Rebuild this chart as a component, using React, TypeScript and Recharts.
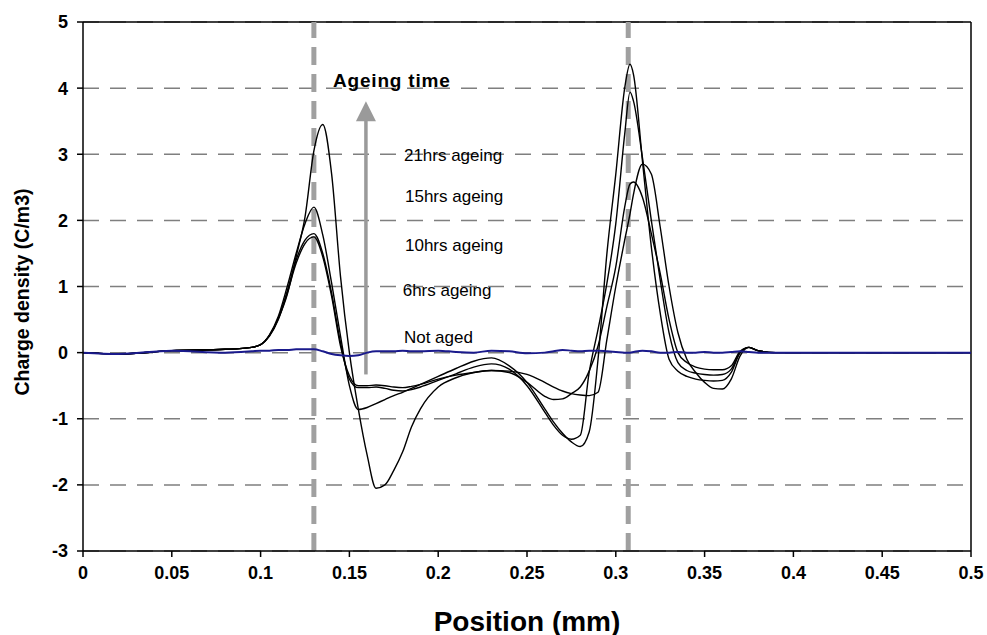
import React from "react";
import { LineChart, Line, XAxis, YAxis, CartesianGrid, ReferenceLine, ReferenceDot } from "recharts";

const positions = [
  0, 0.02, 0.05, 0.08, 0.095, 0.1, 0.105, 0.11, 0.115, 0.12,
  0.125, 0.13, 0.135, 0.14, 0.145, 0.15, 0.155, 0.16, 0.165, 0.17,
  0.175, 0.18, 0.185, 0.19, 0.2, 0.21, 0.22, 0.23, 0.24, 0.25,
  0.26, 0.265, 0.27, 0.275, 0.28, 0.285, 0.29, 0.295, 0.3, 0.305,
  0.308, 0.31, 0.315, 0.32, 0.325, 0.33, 0.335, 0.34, 0.345, 0.35,
  0.355, 0.36, 0.365, 0.37, 0.375, 0.38, 0.39, 0.4, 0.45, 0.5,
];

const hrs21 = [
  0, -0.02, 0.03, 0.05, 0.08, 0.12, 0.26, 0.52, 0.88, 1.45,
  2.05, 3.05, 3.45, 2.7, 1.15, 0.0, -0.85, -1.55, -2.05, -2.0,
  -1.78, -1.5, -1.12, -0.85, -0.52, -0.38, -0.3, -0.27, -0.28, -0.33,
  -0.45, -0.52, -0.58, -0.62, -0.64, -0.65, -0.6, 0.2, 1.0, 1.7,
  2.1, 2.4, 2.85, 2.7, 1.9, 1.0, 0.3, -0.1, -0.3, -0.45,
  -0.54, -0.55, -0.4, -0.05, 0.08, 0.03, 0, 0, 0, 0,
];

const hrs15 = [
  0, -0.02, 0.03, 0.05, 0.08, 0.12, 0.27, 0.55, 1.0, 1.5,
  1.95, 2.2, 1.78, 1.05, 0.25, -0.5, -0.86, -0.83, -0.77, -0.71,
  -0.65, -0.6, -0.54, -0.48, -0.36, -0.24, -0.13, -0.08, -0.2, -0.45,
  -0.85, -1.05, -1.22, -1.35, -1.42, -1.2, -0.1, 1.5, 2.7, 4.0,
  4.36, 4.2, 2.9, 1.6, 0.6, -0.1, -0.28, -0.36, -0.4, -0.42,
  -0.43, -0.42, -0.3, 0.0, 0.08, 0.03, 0, 0, 0, 0,
];

const hrs10 = [
  0, -0.02, 0.03, 0.05, 0.08, 0.12, 0.26, 0.52, 0.93, 1.4,
  1.7, 1.8, 1.5, 0.9, 0.15, -0.4, -0.53, -0.53, -0.52, -0.54,
  -0.57, -0.58, -0.56, -0.52, -0.42, -0.32, -0.22, -0.17, -0.25, -0.5,
  -0.9, -1.1, -1.25, -1.31, -1.25, -0.3, 0.35, 1.05, 1.95, 3.3,
  3.94, 3.8, 2.95, 2.0, 1.1, 0.3, -0.15, -0.27, -0.31, -0.33,
  -0.34, -0.33, -0.25, 0.0, 0.08, 0.03, 0, 0, 0, 0,
];

const hrs6 = [
  0, -0.02, 0.03, 0.05, 0.08, 0.12, 0.25, 0.5, 0.9, 1.35,
  1.65, 1.75, 1.45, 0.85, 0.1, -0.35, -0.5, -0.5, -0.49, -0.5,
  -0.52, -0.53, -0.51, -0.48, -0.4, -0.34, -0.3, -0.27, -0.3, -0.45,
  -0.66, -0.71, -0.7, -0.62, -0.52, -0.28, 0.1, 0.7, 1.3, 2.2,
  2.55, 2.58, 2.35, 1.8, 1.2, 0.5, 0.0, -0.15, -0.22, -0.25,
  -0.26, -0.26, -0.2, 0.02, 0.08, 0.03, 0, 0, 0, 0,
];

const notAged = [
  0, -0.02, 0.03, 0.0, 0.02, 0.03, 0.03, 0.04, 0.04, 0.05,
  0.05, 0.05, 0.02, -0.02, -0.04, -0.05, -0.04, 0.0, 0.02, 0.02,
  0.02, 0.03, 0.02, 0.02, 0.03, 0.01, 0.0, 0.03, 0.02, -0.01,
  0.0, 0.02, 0.04, 0.03, 0.02, 0.03, 0.03, 0.02, 0.01, 0.0,
  0.0, 0.01, 0.03, 0.02, 0.0, 0.0, 0.01, 0.0, 0.0, 0.01,
  0.0, 0.0, 0.01, 0.02, 0.01, 0.0, 0, 0, 0, 0,
];

const xTicks = [0, 0.05, 0.1, 0.15, 0.2, 0.25, 0.3, 0.35, 0.4, 0.45, 0.5];
const yTicks = [-3, -2, -1, 0, 1, 2, 3, 4, 5];
const guidePositions = [0.13, 0.307];

const seriesLabels = [
  { text: "21hrs ageing", x: 0.1807, y: 2.985 },
  { text: "15hrs ageing", x: 0.1813, y: 2.36 },
  { text: "10hrs ageing", x: 0.1813, y: 1.62 },
  { text: "6hrs ageing", x: 0.18, y: 0.94 },
  { text: "Not aged", x: 0.1807, y: 0.227 },
];
const arrowTitle = { text: "Ageing time", x: 0.1408, y: 4.12 };
const arrowPos = { x: 0.1593, from: -0.33, to: 3.52, tip: 3.8 };

const rows = positions.map((x, i) => ({
  x,
  h21: hrs21[i],
  h15: hrs15[i],
  h10: hrs10[i],
  h6: hrs6[i],
  na: notAged[i],
}));

const FONT = "'Liberation Sans', Arial, Helvetica, sans-serif";

const textShape = (text: string, bold: boolean, size: number, spacing: number) => (props: any) => (
  <text
    x={props.cx}
    y={props.cy}
    dominantBaseline="central"
    textAnchor="start"
    fontFamily={FONT}
    fontSize={size}
    fontWeight={bold ? 700 : 400}
    letterSpacing={spacing}
    fill="#000"
  >
    {text}
  </text>
);

const arrowHead = (props: any) => {
  const { cx, cy } = props;
  return <polygon points={`${cx},${cy} ${cx - 10},${cy + 20} ${cx + 10},${cy + 20}`} fill="#9a9a9a" />;
};

const yLabel = () => {
  const cx = 22;
  const cy = 292;
  return (
    <text
      x={cx}
      y={cy}
      transform={`rotate(-90, ${cx}, ${cy})`}
      textAnchor="middle"
      dominantBaseline="central"
      fontFamily={FONT}
      fontSize={19.5}
      fontWeight={700}
      fill="#000"
    >
      Charge density (C/m3)
    </text>
  );
};

const xLabel = () => (
  <text x={527} y={621} textAnchor="middle" dominantBaseline="central" fontFamily={FONT} fontSize={28} fontWeight={700} fill="#000">
    Position (mm)
  </text>
);

const tickStyle = { fill: "#000", fontSize: 18, fontWeight: 700, fontFamily: FONT };

export default function App() {
  return (
    <div style={{ position: "absolute", left: 0, top: 0, background: "#fff" }}>
      <LineChart width={987} height={635} data={rows} margin={{ top: 22, right: 16, left: 0, bottom: 0 }}>
        <CartesianGrid vertical={false} stroke="#7f7f7f" strokeWidth={1.5} strokeDasharray="16 11" />
        <XAxis
          type="number"
          dataKey="x"
          domain={[0, 0.5]}
          ticks={xTicks}
          allowDataOverflow
          height={84}
          tickSize={6}
          tickMargin={9}
          tick={tickStyle}
          axisLine={{ stroke: "#000", strokeWidth: 1.5 }}
          tickLine={{ stroke: "#000", strokeWidth: 1.5 }}
          label={xLabel}
        />
        <YAxis
          type="number"
          domain={[-3, 5]}
          ticks={yTicks}
          allowDataOverflow
          width={83}
          tickSize={6}
          tickMargin={9}
          tick={tickStyle}
          axisLine={{ stroke: "#000", strokeWidth: 1.5 }}
          tickLine={{ stroke: "#000", strokeWidth: 1.5 }}
          label={yLabel}
        />
        <ReferenceLine y={5} stroke="#000" strokeWidth={1.5} />
        <ReferenceLine x={0.5} stroke="#000" strokeWidth={1.5} />
        {guidePositions.map((g) => (
          <ReferenceLine key={g} x={g} stroke="#a0a0a0" strokeWidth={5} strokeDasharray="18 9" />
        ))}
        <ReferenceLine
          segment={[
            { x: arrowPos.x, y: arrowPos.from },
            { x: arrowPos.x, y: arrowPos.to },
          ]}
          stroke="#9a9a9a"
          strokeWidth={3.5}
        />
        <ReferenceDot x={arrowPos.x} y={arrowPos.tip} r={1} shape={arrowHead} />
        <Line type="monotone" dataKey="h6" stroke="#000" strokeWidth={1.4} dot={false} isAnimationActive={false} />
        <Line type="monotone" dataKey="h10" stroke="#000" strokeWidth={1.4} dot={false} isAnimationActive={false} />
        <Line type="monotone" dataKey="h15" stroke="#000" strokeWidth={1.4} dot={false} isAnimationActive={false} />
        <Line type="monotone" dataKey="h21" stroke="#000" strokeWidth={1.4} dot={false} isAnimationActive={false} />
        <Line type="monotone" dataKey="na" stroke="#1a1a8c" strokeWidth={2} dot={false} isAnimationActive={false} />
        <ReferenceDot x={arrowTitle.x} y={arrowTitle.y} r={1} shape={textShape(arrowTitle.text, true, 19, 0.8)} />
        {seriesLabels.map((l) => (
          <ReferenceDot key={l.text} x={l.x} y={l.y} r={1} shape={textShape(l.text, false, 17, 0)} />
        ))}
      </LineChart>
    </div>
  );
}
